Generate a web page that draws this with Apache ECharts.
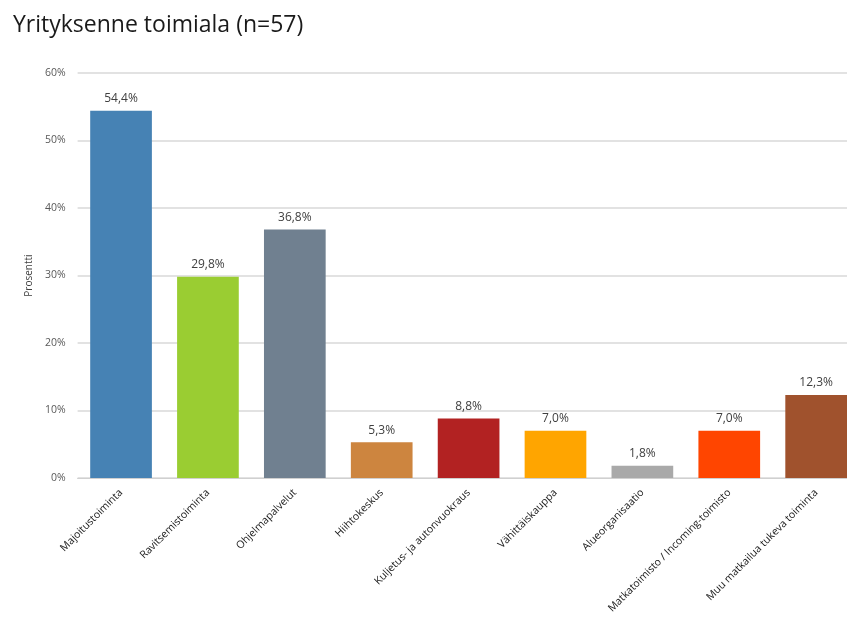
<!DOCTYPE html>
<html>
<head>
<meta charset="utf-8">
<script src="https://cdn.jsdelivr.net/npm/echarts@6/dist/echarts.min.js"></script>
<style>
  html, body { margin: 0; padding: 0; background: #ffffff; overflow: hidden; }
  /* the plot runs a little past the right edge of the window, so the canvas is wider */
  #chart { width: 860px; height: 633px; }
</style>
</head>
<body>
<div id="chart"></div>
<script>
// Toimialat ja niiden osuudet vastaajista (%)
const categories = [
  'Majoitustoiminta',
  'Ravitsemistoiminta',
  'Ohjelmapalvelut',
  'Hiihtokeskus',
  'Kuljetus- ja autonvuokraus',
  'Vähittäiskauppa',
  'Alueorganisaatio',
  'Matkatoimisto / Incoming-toimisto',
  'Muu matkailua tukeva toiminta'
];
const values = [54.4, 29.8, 36.8, 5.3, 8.8, 7.0, 1.8, 7.0, 12.3];
const barColors = [
  '#4682b4', '#9acd32', '#708090', '#cd853f', '#b22222',
  '#ffa500', '#a9a9a9', '#ff4500', '#a0522d'
];
const yTicks = [0, 10, 20, 30, 40, 50, 60];

const fmt = v => v.toFixed(1).replace('.', ',') + '%';

const chart = echarts.init(document.getElementById('chart'), null, { renderer: 'canvas' });

chart.setOption({
  backgroundColor: '#ffffff',
  animation: false,
  title: {
    text: 'Yrityksenne toimiala (n=57)',
    left: 8,
    top: 9,
    textStyle: {
      fontFamily: 'Open Sans',
      fontSize: 23,
      fontWeight: 'normal',
      color: '#1a1a1a'
    }
  },
  grid: {
    left: 77.6,
    top: 73,
    width: 782,
    height: 405,
    containLabel: false
  },
  xAxis: {
    type: 'category',
    data: categories,
    axisLine: { show: true, lineStyle: { color: '#d0d0d0', width: 1 } },
    axisTick: { show: false },
    axisLabel: {
      interval: 0,
      rotate: 45,
      margin: 13,
      fontFamily: 'Open Sans',
      fontSize: 10.5,
      color: '#1a1a1a'
    }
  },
  yAxis: {
    type: 'value',
    min: yTicks[0],
    max: yTicks[yTicks.length - 1],
    interval: 10,
    name: 'Prosentti',
    nameLocation: 'middle',
    nameGap: 41,
    nameRotate: 90,
    nameTextStyle: {
      fontFamily: 'Open Sans',
      fontSize: 10,
      color: '#404040'
    },
    axisLine: { show: false },
    axisTick: { show: false },
    axisLabel: {
      formatter: v => v + '%',
      fontFamily: 'Open Sans',
      fontSize: 10.5,
      color: '#595959',
      margin: 12
    },
    splitLine: { lineStyle: { color: '#d9d9d9', width: 1.5 } }
  },
  series: [{
    type: 'bar',
    data: values.map((v, i) => ({ value: v, itemStyle: { color: barColors[i] } })),
    barCategoryGap: '29%',
    label: {
      show: true,
      position: 'top',
      distance: 6,
      formatter: p => fmt(p.value),
      fontFamily: 'Open Sans',
      fontSize: 12,
      color: '#404040'
    }
  }]
});
</script>
</body>
</html>
